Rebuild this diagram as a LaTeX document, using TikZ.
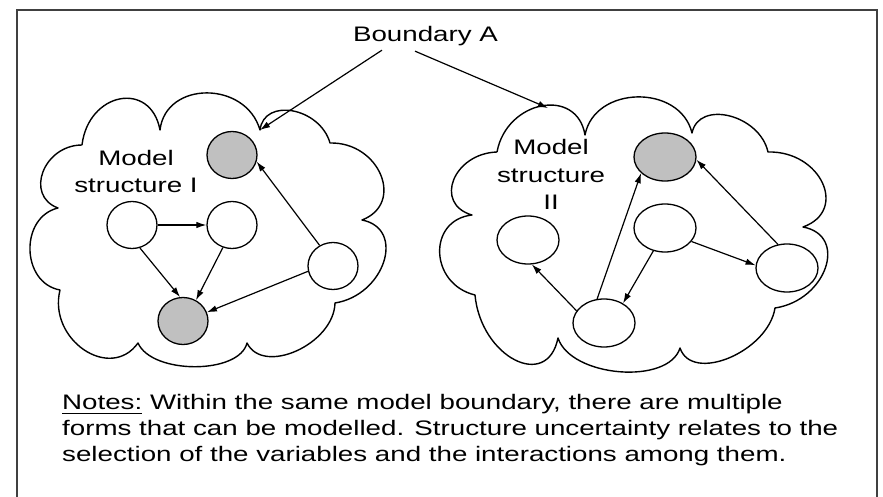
\documentclass[tikz,border=0pt]{standalone}
\usepackage{fontspec}
\setmainfont[FakeStretch=1.32]{Liberation Sans}
\usetikzlibrary{arrows.meta,shapes.geometric,calc}

\definecolor{nodegray}{RGB}{192,192,192}

% one outward bulge of a cloud: from valley #1 through crest #2 to valley #3
\newcommand\bumpto[3]{.. controls ($0.233*(#1)+1.333*(#2)-0.567*(#3)$) and ($0.233*(#3)+1.333*(#2)-0.567*(#1)$) .. (#3)}

% underlined word with the rule set a little below the baseline
\newsavebox\ulbox
\newcommand\ulword[1]{\sbox\ulbox{#1}\rlap{\rule[-5pt]{\wd\ulbox}{1.5pt}}\usebox\ulbox}

\tikzset{
  varnode/.style={ellipse, draw, line width=1.3pt, fill=white, inner sep=0pt},
  roundvar/.style={varnode, minimum width=50pt, minimum height=47pt},
  ovalvar/.style={varnode, minimum width=62pt, minimum height=48pt},
  shaded/.style={fill=nodegray},
  link/.style={line width=1.2pt, -{Latex[length=10pt,width=6.5pt]}},
  cloudline/.style={line width=1.4pt, line join=round},
  frameline/.style={line width=2pt, draw=black!75},
  txt/.style={font=\fontsize{21pt}{26pt}\selectfont, inner sep=0pt},
}

\begin{document}
\begin{tikzpicture}[x=1pt, y=-1pt]
  \useasboundingbox (0,0) rectangle (883,497);
  \fill[white] (0,0) rectangle (883,497);

  % outer frame (open at the bottom)
  \draw[frameline] (17,497) |- (877,10) -- (877,497);

  % ---- left cloud: valleys and crests ----
  \coordinate (L1) at (82,145);   \coordinate (Lp1) at (120,99);
  \coordinate (L2) at (160,130);  \coordinate (Lp2) at (207,93);
  \coordinate (L3) at (260,130);  \coordinate (Lp3) at (293,111);
  \coordinate (L4) at (330,143);  \coordinate (Lp4) at (381,175);
  \coordinate (L5) at (362,220);  \coordinate (Lp5) at (384,262);
  \coordinate (L6) at (335,303);  \coordinate (Lp6) at (297,351);
  \coordinate (L7) at (247,343);  \coordinate (Lp7) at (195,367);
  \coordinate (L8) at (138,343);  \coordinate (Lp8) at (84,350);
  \coordinate (L9) at (60,290);   \coordinate (Lp9) at (30,250);
  \coordinate (L10) at (58,208);  \coordinate (Lp10) at (43,172);
  \draw[cloudline] (L1) \bumpto{L1}{Lp1}{L2} \bumpto{L2}{Lp2}{L3}
    \bumpto{L3}{Lp3}{L4} \bumpto{L4}{Lp4}{L5} \bumpto{L5}{Lp5}{L6}
    \bumpto{L6}{Lp6}{L7} \bumpto{L7}{Lp7}{L8} \bumpto{L8}{Lp8}{L9}
    \bumpto{L9}{Lp9}{L10} \bumpto{L10}{Lp10}{L1};

  % ---- right cloud: valleys and crests ----
  \coordinate (R1) at (497,152);  \coordinate (Rp1) at (542,106);
  \coordinate (R2) at (585,135);  \coordinate (Rp2) at (638,97);
  \coordinate (R3) at (692,133);  \coordinate (Rp3) at (730,116);
  \coordinate (R4) at (768,152);  \coordinate (Rp4) at (823,183);
  \coordinate (R5) at (803,227);  \coordinate (Rp5) at (826,268);
  \coordinate (R6) at (775,308);  \coordinate (Rp6) at (730,358);
  \coordinate (R7) at (680,348);  \coordinate (Rp7) at (620,372);
  \coordinate (R8) at (558,338);  \coordinate (Rp8) at (515,360);
  \coordinate (R9) at (475,295);  \coordinate (Rp9) at (440,253);
  \coordinate (R10) at (472,215); \coordinate (Rp10) at (454,180);
  \draw[cloudline] (R1) \bumpto{R1}{Rp1}{R2} \bumpto{R2}{Rp2}{R3}
    \bumpto{R3}{Rp3}{R4} \bumpto{R4}{Rp4}{R5} \bumpto{R5}{Rp5}{R6}
    \bumpto{R6}{Rp6}{R7} \bumpto{R7}{Rp7}{R8} \bumpto{R8}{Rp8}{R9}
    \bumpto{R9}{Rp9}{R10} \bumpto{R10}{Rp10}{R1};

  % ---- title and its pointers ----
  \node[txt, anchor=base] (bA) at (425.5,42) {Boundary A};
  \coordinate (hitL) at (260,130);
  \coordinate (hitR) at (548,108);
  \draw[link] ([xshift=-43.5pt, yshift=-3.6pt]bA.south) -- (hitL);
  \draw[link] ([xshift=-10.5pt, yshift=-4.6pt]bA.south) -- (hitR);

  % ---- model structure I ----
  \node[txt, anchor=base] (m1a) at (136,166) {Model};
  \node[txt, anchor=base] (m1b) at (136,193) {structure I};
  \node[roundvar, shaded] (gt) at (232,155) {};
  \node[roundvar] (va) at (132,225) {};
  \node[roundvar] (vb) at (232,225) {};
  \node[roundvar] (vr) at (333,266) {};
  \node[roundvar, shaded] (gb) at (183,321) {};
  \draw[link] (va) -- (vb);
  \draw[link] (va.-71) -- (gb.97);
  \draw[link] (vb.248) -- (gb.58);
  \draw[link] (vr.192) -- (gb.20);
  \draw[link] (vr.123) -- (gt.-15);

  % ---- model structure II ----
  \node[txt, anchor=base] (m2a) at (551,155) {Model};
  \node[txt, anchor=base] (m2b) at (551,183) {structure};
  \node[txt, anchor=base] (m2c) at (551,210) {II};
  \node[ovalvar, shaded] (wg) at (665,157) {};
  \node[ovalvar] (wl) at (528,240) {};
  \node[ovalvar] (wm) at (665,228) {};
  \node[ovalvar] (wr) at (787,268) {};
  \node[ovalvar] (wb) at (604,323) {};
  \draw[link] (wb.156) -- (wl.-81);
  \draw[link] (wb.106) -- (wg.214);
  \draw[link] (wm.243) -- (wb.46);
  \draw[link] (wm.-27) -- (wr.175);
  \draw[link] (wr.111) -- (wg.-5);

  % ---- notes ----
  \node[txt, anchor=base west] (n1) at (62,409)
    {\ulword{Notes:} Within the same model boundary, there are multiple};
  \node[txt, anchor=base west] (n2) at (62,435)
    {forms that can be modelled. Structure uncertainty relates to the};
  \node[txt, anchor=base west] (n3) at (62,461)
    {selection of the variables and the interactions among them.};
\end{tikzpicture}
\end{document}
